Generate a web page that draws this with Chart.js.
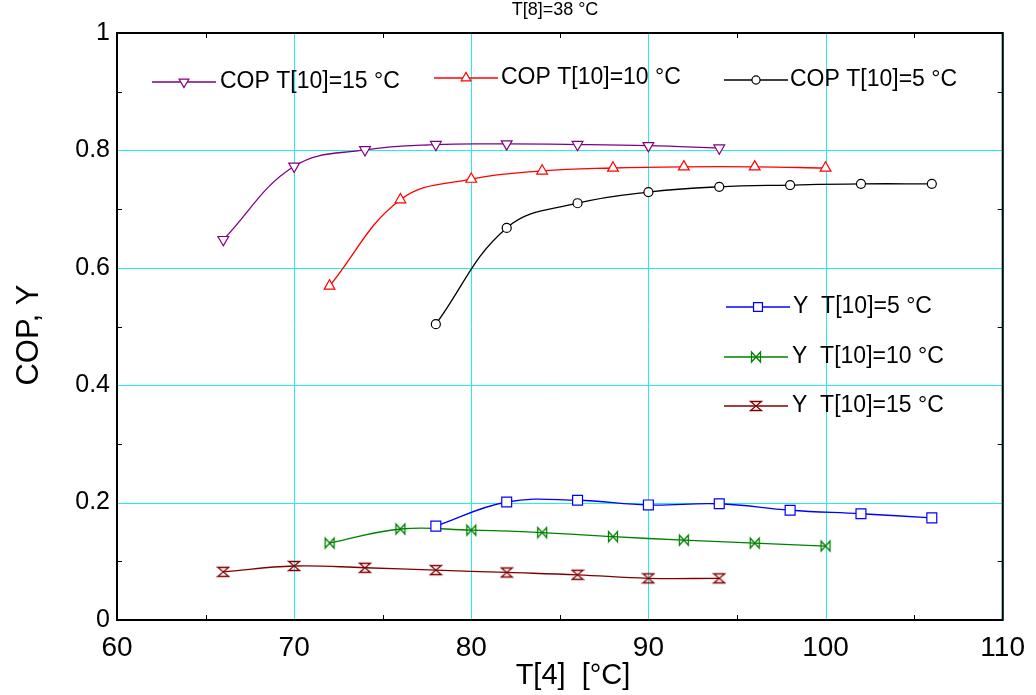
<!DOCTYPE html>
<html><head><meta charset="utf-8">
<script src="https://cdn.jsdelivr.net/npm/chart.js@4.4.1/dist/chart.umd.min.js"></script>
<style>html,body{margin:0;padding:0;background:#fff}#wrap{width:1036px;height:695px;position:relative}</style>
</head><body><div id="wrap"><canvas id="c"></canvas></div>
<script>
// ---- data ----
const xCop15 = [66,70,74,78,82,86,90,94];
const cop15  = [0.648,0.773,0.801,0.810,0.811,0.810,0.808,0.804];
const xCop10 = [72,76,80,84,88,92,96,100];
const cop10  = [0.569,0.716,0.751,0.765,0.770,0.772,0.772,0.770];
const xCop5  = [78,82,86,90,94,98,102,106];
const cop5   = [0.504,0.668,0.710,0.729,0.738,0.741,0.743,0.743];
const xY5    = [78,82,86,90,94,98,102,106];
const y5     = [0.160,0.201,0.204,0.196,0.198,0.187,0.181,0.174];
const xY10   = [72,76,80,84,88,92,96,100];
const y10    = [0.131,0.155,0.153,0.149,0.142,0.136,0.131,0.126];
const xY15   = [66,70,74,78,82,86,90,94];
const y15    = [0.082,0.092,0.089,0.085,0.081,0.077,0.071,0.071];
const seriesNames = ['COP T[10]=15 °C','COP T[10]=10 °C','COP T[10]=5 °C','Y  T[10]=5 °C','Y  T[10]=10 °C','Y  T[10]=15 °C'];
const xTicks = [60,70,80,90,100,110];
const yTicks = [0,0.2,0.4,0.6,0.8,1];
const xMinor = [65,75,85,95,105];
const yMinor = [0.1,0.3,0.5,0.7,0.9];
const chartTitle = 'T[8]=38 °C';
const xTitle = 'T[4]  [°C]';
const yTitle = 'COP, Y';

const FONT = "'Liberation Sans', Arial, sans-serif";
const GRID = '#22eeee';

function mkCanvas(draw){
  const c=document.createElement('canvas'); c.width=14; c.height=14;
  const g=c.getContext('2d'); draw(g); return c;
}
const bowtieH = mkCanvas(g=>{
  g.strokeStyle='#008000'; g.lineWidth=1.3;
  g.beginPath(); g.moveTo(2.5,2); g.lineTo(11.5,12); g.lineTo(11.5,2); g.lineTo(2.5,12); g.closePath(); g.stroke();
});
const bowtieV = mkCanvas(g=>{
  g.strokeStyle='#800000'; g.lineWidth=1.3;
  g.beginPath(); g.moveTo(1.5,2.5); g.lineTo(12.5,2.5); g.lineTo(1.5,11.5); g.lineTo(12.5,11.5); g.closePath(); g.stroke();
});

function pts(xs,ys){ return xs.map((x,i)=>({x, y:ys[i]})); }
function ds(label,xs,ys,color,style,radius,rotation){
  return {label, data:pts(xs,ys), borderColor:color, borderWidth:1.3,
    pointStyle:style, pointRadius:radius, pointRotation:rotation||0,
    pointBorderColor:color, pointBackgroundColor:'#fff', pointBorderWidth:1.2,
    pointHoverRadius:radius, tension:0.4, fill:false};
}
const datasets = [
  ds(seriesNames[0], xCop15, cop15, '#800080', 'triangle', 6.2, 180),
  ds(seriesNames[1], xCop10, cop10, '#ff0000', 'triangle', 6.2, 0),
  ds(seriesNames[2], xCop5,  cop5,  '#000000', 'circle', 4.5, 0),
  ds(seriesNames[3], xY5,    y5,    '#0000ff', 'rect', 7, 0),
  ds(seriesNames[4], xY10,   y10,   '#008000', bowtieH, 7, 0),
  ds(seriesNames[5], xY15,   y15,   '#800000', bowtieV, 7, 0),
];

// legend layout (pixel positions of the in-plot key)
const legendLayout = [
  {x1:152, x2:216, y:82, tx:220},
  {x1:434, x2:498, y:78, tx:501},
  {x1:724, x2:788, y:80, tx:790},
  {x1:726, x2:790, y:307, tx:793},
  {x1:724, x2:788, y:357, tx:792},
  {x1:724, x2:788, y:406, tx:792},
];

const gridPlugin = {
  id:'cgrid',
  beforeDatasetsDraw(chart){
    const {ctx, chartArea:a, scales:{x,y}} = chart;
    ctx.save();
    ctx.strokeStyle=GRID; ctx.lineWidth=1;
    ctx.beginPath();
    xTicks.forEach(v=>{const p=Math.round(x.getPixelForValue(v))+0.5; ctx.moveTo(p,a.top); ctx.lineTo(p,a.bottom);});
    yTicks.forEach(v=>{const p=Math.round(y.getPixelForValue(v))+0.5; ctx.moveTo(a.left,p); ctx.lineTo(a.right,p);});
    ctx.stroke();
    ctx.restore();
  }
};

const framePlugin = {
  id:'frame',
  afterDraw(chart){
    const {ctx, chartArea:a, scales:{x,y}} = chart;
    ctx.save();
    ctx.strokeStyle='#000'; ctx.lineWidth=1;
    ctx.beginPath();
    xMinor.forEach(v=>{const p=Math.round(x.getPixelForValue(v))+0.5;
      ctx.moveTo(p,a.bottom); ctx.lineTo(p,a.bottom-5); ctx.moveTo(p,a.top); ctx.lineTo(p,a.top+5);});
    yMinor.forEach(v=>{const p=Math.round(y.getPixelForValue(v))+0.5;
      ctx.moveTo(a.left,p); ctx.lineTo(a.left+5,p); ctx.moveTo(a.right,p); ctx.lineTo(a.right-5,p);});
    ctx.stroke();
    ctx.lineWidth=2;
    ctx.strokeRect(a.left,a.top,a.right-a.left,a.bottom-a.top);
    ctx.fillStyle='#000';
    // chart title
    ctx.font='18px '+FONT; ctx.textAlign='center'; ctx.textBaseline='middle';
    ctx.fillText(chartTitle, 555, 10);
    // axis titles
    ctx.font='29px '+FONT;
    ctx.fillText(xTitle, 573, 676);
    ctx.save();
    ctx.translate(29, 335); ctx.rotate(-Math.PI/2);
    ctx.font='31px '+FONT;
    ctx.fillText(yTitle, 0, 0);
    ctx.restore();
    // key
    ctx.font='23px '+FONT; ctx.textAlign='left';
    chart.data.datasets.forEach((d,i)=>{
      const L=legendLayout[i];
      ctx.strokeStyle=d.borderColor; ctx.globalAlpha=0.75; ctx.lineWidth=2;
      ctx.beginPath(); ctx.moveTo(L.x1,L.y); ctx.lineTo(L.x2,L.y); ctx.stroke();
      ctx.globalAlpha=1;
      ctx.fillStyle='#fff'; ctx.strokeStyle=d.borderColor; ctx.lineWidth=1.2;
      Chart.helpers.drawPoint(ctx,{pointStyle:d.pointStyle, radius:d.pointRadius*0.9, rotation:d.pointRotation, borderWidth:1.2}, (L.x1+L.x2)/2, L.y);
      ctx.fillStyle='#000';
      ctx.fillText(d.label, L.tx, L.y);
    });
    ctx.restore();
  }
};

new Chart(document.getElementById('c'), {
  type:'line',
  data:{datasets},
  options:{
    responsive:true, maintainAspectRatio:false, animation:false,
    layout:{padding:{left:0, top:33, right:33, bottom:0}},
    plugins:{legend:{display:false}, tooltip:{enabled:false}},
    scales:{
      x:{type:'linear', min:60, max:110,
        afterBuildTicks:s=>{s.ticks=xTicks.map(v=>({value:v}));},
        afterFit:s=>{s.height=75;},
        ticks:{color:'#000', font:{family:FONT, size:28}, padding:11, maxRotation:0, autoSkip:false},
        grid:{display:false, drawTicks:false},
        border:{display:false},
        title:{display:false}
      },
      y:{type:'linear', min:0, max:1,
        afterBuildTicks:s=>{s.ticks=yTicks.map(v=>({value:v}));},
        afterFit:s=>{s.width=117;},
        ticks:{color:'#000', font:{family:FONT, size:25}, padding:7, callback:v=>String(+v.toFixed(1))},
        grid:{display:false, drawTicks:false},
        border:{display:false},
        title:{display:false}
      }
    }
  },
  plugins:[gridPlugin, framePlugin]
});
</script></body></html>
